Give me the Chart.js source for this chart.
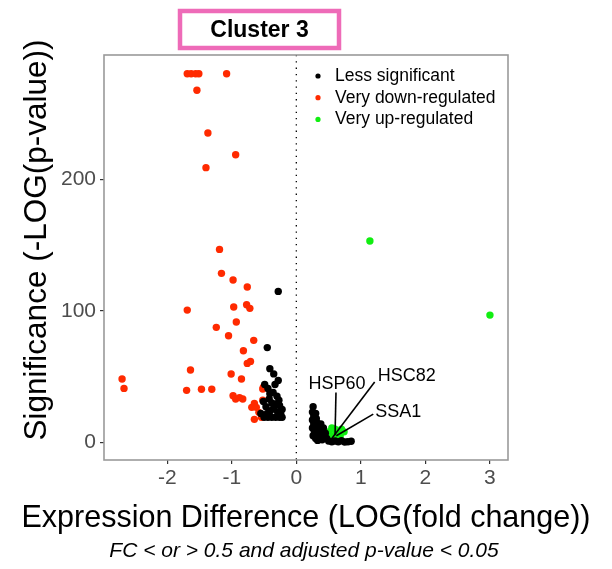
<!DOCTYPE html>
<html>
<head>
<meta charset="utf-8">
<script src="https://cdn.jsdelivr.net/npm/chart.js@4/dist/chart.umd.min.js"></script>
<style>
  html, body { margin: 0; padding: 0; background: #fff; }
  #wrap { width: 612px; height: 569px; }
</style>
</head>
<body>
<div id="wrap"><canvas id="volcano" width="612" height="569"></canvas></div>
<script>
// values
const xTicks = [-2, -1, 0, 1, 2, 3];
const yTicks = [0, 100, 200];

const seriesNames = ['Less significant', 'Very down-regulated', 'Very up-regulated'];
const seriesColors = ['#000000', '#FF2A00', '#11EE11'];

const lessX = [-0.28, -0.45, -0.41, -0.35, -0.28, -0.33, -0.49, -0.44, -0.41, -0.36, -0.27, -0.26, -0.51, -0.30, -0.42,
  -0.22, -0.24, -0.29, -0.35, -0.40, -0.45, -0.50, -0.44, -0.38, -0.32, -0.26, -0.22, -0.33, -0.47, -0.38, -0.55,
  0.26, 0.25, 0.27, 0.25, 0.27, 0.25, 0.28, 0.26, 0.30, 0.33, 0.31, 0.33, 0.36, 0.38, 0.35, 0.40, 0.42, 0.45, 0.47,
  0.50, 0.55, 0.60, 0.65, 0.70, 0.75, 0.80, 0.85, 0.30, 0.32, 0.29, 0.38, 0.44];
const lessY = [114.7, 72, 56, 52, 47, 44, 44, 41, 37, 38, 32, 28, 31, 35, 33,
  25, 21, 23, 26, 24, 22, 19, 19, 19, 19, 19, 19, 29, 27, 30, 22,
  27, 23, 20, 17, 14, 11, 8, 5, 3, 1.5, 18, 12, 9, 6, 4, 2, 11, 7, 3,
  1, 0.5, 1, 0.5, 1.2, 0.3, 0.5, 0.8, 22, 15, 6, 14, 4];

const downX = [-1.69, -1.63, -1.56, -1.51, -1.08, -1.54, -1.37, -0.94, -1.40,
  -1.19, -1.16, -0.98, -0.76, -1.69, -0.97, -0.77, -0.72, -0.93, -1.24,
  -1.05, -0.66, -0.82, -0.76, -0.71, -1.64, -1.01, -0.85, -2.70, -2.67, -1.70, -1.47, -1.31,
  -0.98, -0.94, -0.83, -0.88, -0.52, -0.51, -0.52, -0.65, -0.69, -0.62, -0.58, -0.49, -0.65, -0.54];
const downY = [280, 280, 280, 280, 280, 267.5, 235, 218.5, 208.7,
  146.6, 128.4, 123.3, 118, 100.5, 102.8, 104.6, 101.8, 91.4, 87.4,
  81, 77.5, 69.6, 60, 61.5, 55, 51.9, 48.1, 48.1, 41, 39.5, 40.3, 40.3,
  35.4, 33, 33, 34, 40.5, 42, 32, 29.6, 26.6, 26.6, 22.8, 20, 17.5, 19];

const upX = [1.14, 3.0, 0.50, 0.55, 0.60, 0.65, 0.70, 0.57, 0.62, 0.68, 0.52, 0.74];
const upY = [153, 96.7, 8, 11, 10, 7, 10, 5, 4, 5, 4, 8];

// gene labels: point, and where the text sits
const geneNames = ['HSP60', 'HSC82', 'SSA1'];
const geneX = [0.60, 0.55, 0.62];
const geneY = [5.5, 3, 5];
const geneTextX = [0.63, 1.71, 1.58];
const geneTextY = [44, 50.5, 23];

const pts = (xs, ys) => xs.map((x, i) => ({ x: x, y: ys[i] }));

const font = '"Liberation Sans", Arial, Helvetica, sans-serif';

const decorations = {
  id: 'decorations',
  beforeDatasetsDraw(chart) {
    const { ctx, chartArea: a, scales: { x } } = chart;
    ctx.save();
    // dotted zero line
    ctx.strokeStyle = '#000';
    ctx.lineWidth = 1.3;
    ctx.setLineDash([1.3, 5]);
    ctx.beginPath();
    ctx.moveTo(x.getPixelForValue(0), a.top);
    ctx.lineTo(x.getPixelForValue(0), a.bottom);
    ctx.stroke();
    ctx.restore();
  },
  afterDraw(chart) {
    const { ctx, chartArea: a, scales: { x, y } } = chart;
    ctx.save();
    // panel border
    ctx.strokeStyle = '#9a9a9a';
    ctx.lineWidth = 1.6;
    ctx.strokeRect(a.left, a.top, a.right - a.left, a.bottom - a.top);

    // gene labels
    ctx.strokeStyle = '#000';
    ctx.lineWidth = 1.6;
    ctx.fillStyle = '#000';
    ctx.font = '18px ' + font;
    ctx.textAlign = 'center';
    ctx.textBaseline = 'middle';
    geneNames.forEach((g, i) => {
      const tx = x.getPixelForValue(geneTextX[i]);
      const ty = y.getPixelForValue(geneTextY[i]);
      const px = x.getPixelForValue(geneX[i]);
      const py = y.getPixelForValue(geneY[i]);
      const w = ctx.measureText(g).width;
      let sx, sy;
      if (i === 0) { sx = tx - 1; sy = ty + 8; }
      else if (i === 1) { sx = tx - w / 2 - 3; sy = ty + 6; }
      else { sx = tx - w / 2 - 2; sy = ty + 2; }
      ctx.beginPath();
      ctx.moveTo(sx, sy);
      ctx.lineTo(px, py);
      ctx.stroke();
      ctx.fillText(g, tx, ty);
    });

    // legend inside panel
    ctx.textAlign = 'left';
    ctx.font = '17.5px ' + font;
    seriesNames.forEach((n, i) => {
      const cy = a.top + 21 + i * 21.7;
      ctx.fillStyle = seriesColors[i];
      ctx.beginPath();
      ctx.arc(a.left + 214, cy, 2.6, 0, Math.PI * 2);
      ctx.fill();
      ctx.fillStyle = '#000';
      ctx.fillText(n, a.left + 231, cy);
    });

    // title box
    ctx.strokeStyle = '#EE6BB8';
    ctx.lineWidth = 4.5;
    ctx.strokeRect(180, 11, 159, 37);
    ctx.fillStyle = '#000';
    ctx.textAlign = 'center';
    ctx.font = 'bold 23px ' + font;
    ctx.fillText('Cluster 3', 259.5, 31);

    // axis titles
    ctx.font = '30.5px ' + font;
    ctx.fillText('Expression Difference (LOG(fold change))', 306, 519);
    ctx.font = 'italic 21px ' + font;
    ctx.fillText('FC < or > 0.5 and adjusted p-value < 0.05', 304, 551);
    ctx.translate(37, 240);
    ctx.rotate(-Math.PI / 2);
    ctx.font = '31.5px ' + font;
    ctx.fillText('Significance (-LOG(p-value))', 0, 0);
    ctx.restore();
  }
};

new Chart(document.getElementById('volcano'), {
  type: 'scatter',
  data: {
    datasets: [
      { label: seriesNames[0], data: pts(lessX, lessY), backgroundColor: seriesColors[0], borderWidth: 0, pointRadius: 3.7 },
      { label: seriesNames[1], data: pts(downX, downY), backgroundColor: seriesColors[1], borderWidth: 0, pointRadius: 3.7 },
      { label: seriesNames[2], data: pts(upX, upY), backgroundColor: seriesColors[2], borderWidth: 0, pointRadius: 3.7 },
    ],
  },
  options: {
    responsive: false,
    animation: false,
    layout: { padding: { left: 0, right: 104, top: 55, bottom: 0 } },
    plugins: { legend: { display: false }, tooltip: { enabled: false } },
    scales: {
      x: {
        type: 'linear',
        min: -2.98,
        max: 3.28,
        afterBuildTicks: (s) => { s.ticks = xTicks.map((v) => ({ value: v })); },
        afterFit: (s) => { s.height = 109; },
        grid: { drawOnChartArea: false, drawTicks: true, tickLength: 4, color: '#333', lineWidth: 1.2 },
        border: { display: false },
        ticks: { color: '#4D4D4D', padding: 2, font: { family: font, size: 21 } },
      },
      y: {
        type: 'linear',
        min: -13.4,
        max: 294.3,
        afterBuildTicks: (s) => { s.ticks = yTicks.map((v) => ({ value: v })); },
        afterFit: (s) => { s.width = 104; },
        grid: { drawOnChartArea: false, drawTicks: true, tickLength: 4, color: '#333', lineWidth: 1.2 },
        border: { display: false },
        ticks: { color: '#4D4D4D', padding: 4, font: { family: font, size: 21 } },
      },
    },
  },
  plugins: [decorations],
});
</script>
</body>
</html>
